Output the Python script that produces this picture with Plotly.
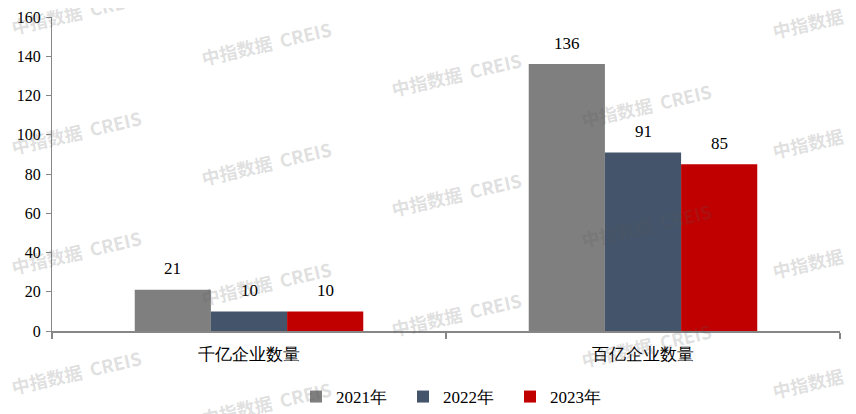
# Grouped bars: number of enterprises with sales above 100bn / 10bn, 2021-2023
import plotly.graph_objects as go

# --- data ---
categories = ["千亿企业数量", "百亿企业数量"]
series_names = ["2021年", "2022年", "2023年"]
values_2021 = [21, 136]
values_2022 = [10, 91]
values_2023 = [10, 85]
y_ticks = [0, 20, 40, 60, 80, 100, 120, 140, 160]

colors = ["#7F7F7F", "#44546A", "#C00000"]
serif = "Liberation Serif"

# the page body has an 8px margin, so the figure is drawn 8px smaller
# and the margins are shifted to keep the plot where the reference has it
W, H = 848, 406
L, R, T, B = 44, 16, 9, 83
pw, ph = W - L - R, H - T - B
bargap = 0.42

all_values = [values_2021, values_2022, values_2023]

fig = go.Figure()
for name, vals, col in zip(series_names, all_values, colors):
    fig.add_trace(go.Bar(
        x=categories,
        y=vals,
        name=name,
        marker=dict(color=col, line=dict(width=0)),
    ))

# value labels above the bars (a little higher than plotly's own outside text)
bar_px = pw / len(categories) * (1 - bargap) / len(series_names)
for i, vals in enumerate(all_values):
    for cat, v in zip(categories, vals):
        fig.add_annotation(
            x=cat, y=v, xref="x", yref="y",
            text=str(v), showarrow=False,
            xshift=(i - 1) * bar_px, yshift=21,
            font=dict(family=serif, size=17, color="black"),
        )

# --- watermark "中指数据 CREIS" tiled over the picture (screen pixels) ---
for i in range(5):
    cx = 76 + 190.3 * i
    off = (12 + 31 * i) % 120
    for k in range(-1, 5):
        cy = off + 120 * k
        if cy < -30 or cy > 440:
            continue
        fig.add_annotation(
            x=(cx - 8 - L) / pw, y=(H - B - (cy - 8)) / ph,
            xref="paper", yref="paper",
            xanchor="center", yanchor="middle",
            text="<b>中指数据  CREIS</b>",
            showarrow=False, textangle=-13,
            font=dict(family="Noto Sans CJK SC", size=18,
                      color="rgba(90,90,90,0.2)"),
        )

fig.update_layout(
    width=W, height=H,
    margin=dict(l=L, r=R, t=T, b=B, autoexpand=False),
    paper_bgcolor="white",
    plot_bgcolor="white",
    barmode="group",
    bargap=bargap,
    bargroupgap=0,
    font=dict(family=serif, size=16, color="black"),
    showlegend=True,
    legend=dict(
        orientation="h",
        x=(296 - 8 - L) / pw, xanchor="left",
        y=-66 / ph, yanchor="middle",
        font=dict(family=serif, size=17, color="black"),
        entrywidth=62,
        traceorder="normal",
    ),
)

fig.update_xaxes(
    showline=True, linecolor="#868686", linewidth=1.5,
    ticks="outside", ticklen=6, tickcolor="#868686", tickwidth=1.5,
    tickson="boundaries",
    ticklabelstandoff=7,
    showgrid=False,
    automargin=False,
    tickfont=dict(family=serif, size=17, color="black"),
)
fig.update_yaxes(
    range=[0, 160],
    tickvals=y_ticks,
    showline=True, linecolor="#868686", linewidth=1,
    ticks="outside", ticklen=5, tickcolor="#868686",
    ticklabelstandoff=2,
    showgrid=False, zeroline=False,
    automargin=False,
    tickfont=dict(family=serif, size=16, color="black"),
)

fig.write_html("out.html")
